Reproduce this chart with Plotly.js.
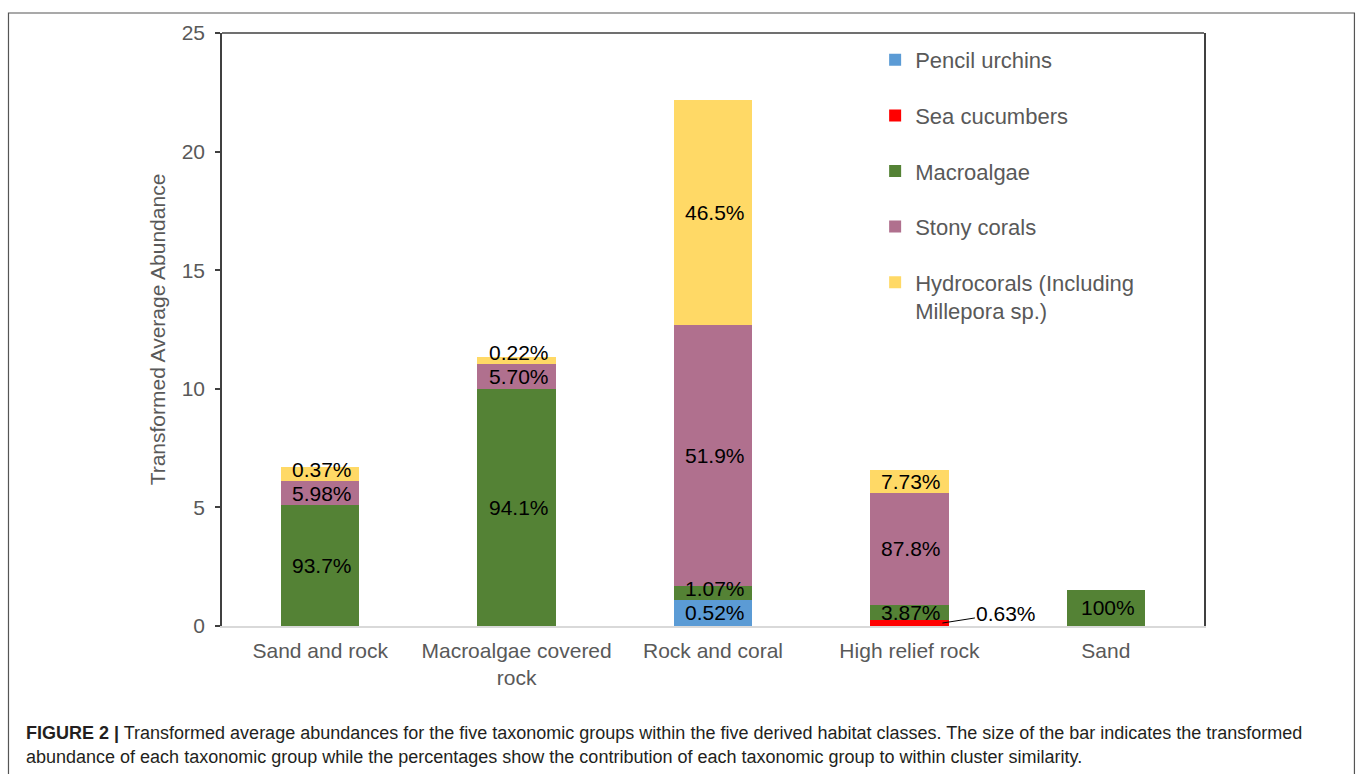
<!DOCTYPE html>
<html>
<head>
<meta charset="utf-8">
<script src="https://cdn.plot.ly/plotly-3.0.1.min.js"></script>
<style>
html,body{margin:0;padding:0;background:#fff;}
#chart{width:1357px;height:774px;}
</style>
</head>
<body>
<div id="chart"></div>
<script>
// ---- data ----
const categories = ['Sand and rock', 'Macroalgae covered<br>rock', 'Rock and coral', 'High relief rock', 'Sand'];
const seriesNames = ['Pencil urchins', 'Sea cucumbers', 'Macroalgae', 'Stony corals', 'Hydrocorals (Including<br>Millepora sp.)'];
const pencilUrchins = [null, null, 1.10, null, null];
const seaCucumbers  = [null, null, null, 0.25, null];
const macroalgae    = [5.10, 9.99, 0.59, 0.64, 1.52];
const stonyCorals   = [1.01, 1.06, 11.00, 4.72, null];
const hydrocorals   = [0.59, 0.29, 9.49, 0.97, null];
const pencilLabels  = ['', '', '0.52%', '', ''];
const seaLabels     = ['', '', '', '0.63%', ''];
const macroLabels   = ['93.7%', '94.1%', '1.07%', '3.87%', '100%'];
const stonyLabels   = ['5.98%', '5.70%', '51.9%', '87.8%', ''];
const hydroLabels   = ['0.37%', '0.22%', '46.5%', '7.73%', ''];
const yTicks = [0, 5, 10, 15, 20, 25];
const captionLine1 = '<b>FIGURE 2 |</b> Transformed average abundances for the five taxonomic groups within the five derived habitat classes. The size of the bar indicates the transformed';
const captionLine2 = 'abundance of each taxonomic group while the percentages show the contribution of each taxonomic group to within cluster similarity.';

const colors = ['#5b9bd5', '#ff0000', '#548235', '#b0708e', '#ffd966'];
const FONT = 'Liberation Sans, Arial, sans-serif';
const GREY = '#595959';
const LABEL_FONT = {family: FONT, size: 21, color: '#000'};

const seriesVals = [pencilUrchins, seaCucumbers, macroalgae, stonyCorals, hydrocorals];
const seriesLabels = [pencilLabels, seaLabels, macroLabels, stonyLabels, hydroLabels];

const data = seriesVals.map((vals, i) => ({
  type: 'bar',
  name: seriesNames[i],
  legendgroup: 'g' + i,
  x: categories,
  y: vals,
  marker: {color: colors[i], line: {width: 0}},
  hoverinfo: 'x+y+name'
}));

// plot area: x 221.6..1204, y 33..626
const L = 221.6, R = 1204, T = 33, B = 626, W = 1357, H = 774;
const px = v => (v - L) / (R - L);
const py = v => (B - v) / (B - T);
const Y_MAX = 25;
const pxPerUnit = (B - T) / Y_MAX;

// in-bar labels: centred in each segment, pushed upward when they would collide
const annotations = [];
const MIN_GAP = 24;
categories.forEach((cat, c) => {
  let base = 0;
  let prevPix = null;
  seriesVals.forEach((vals, s) => {
    const v = vals[c] || 0;
    const lbl = seriesLabels[s][c];
    const mid = base + v / 2;
    base += v;
    if (!lbl || s === 1) return; // sea cucumber label drawn with a leader line below
    let midPix = mid * pxPerUnit;
    let shift = 0;
    if (prevPix !== null && midPix - prevPix < MIN_GAP) {
      shift = prevPix + MIN_GAP - midPix;
    }
    prevPix = midPix + shift;
    annotations.push({
      xref: 'x', yref: 'y', x: cat, y: mid, yshift: shift, xshift: 2,
      text: lbl, showarrow: false, font: LABEL_FONT, xanchor: 'center', yanchor: 'middle'
    });
  });
});

// Sea cucumber label with leader line
annotations.push({
  xref: 'x', yref: 'y', x: categories[3], y: seaCucumbers[3] / 2, xshift: 33,
  text: seaLabels[3], showarrow: true, arrowhead: 0, arrowwidth: 1, arrowcolor: '#000',
  ax: 64, ay: -10, font: LABEL_FONT, standoff: 0
});

// caption
annotations.push({
  xref: 'paper', yref: 'paper', x: px(24), y: py(733), xanchor: 'left', yanchor: 'middle',
  text: captionLine1, showarrow: false, align: 'left',
  font: {family: FONT, size: 18, color: '#231f20'}
});
annotations.push({
  xref: 'paper', yref: 'paper', x: px(24), y: py(757), xanchor: 'left', yanchor: 'middle',
  text: captionLine2, showarrow: false, align: 'left',
  font: {family: FONT, size: 18, color: '#231f20'}
});

const layout = {
  width: W, height: H,
  margin: {l: L, r: W - R, t: T, b: H - B, pad: 0},
  paper_bgcolor: '#fff', plot_bgcolor: '#fff',
  barmode: 'stack',
  bargap: 0.6,
  font: {family: FONT, color: GREY},
  showlegend: true,
  legend: {
    x: px(875), y: py(39), xanchor: 'left', yanchor: 'top',
    font: {family: FONT, size: 22, color: GREY},
    traceorder: 'grouped', tracegroupgap: 24, valign: 'top',
    bgcolor: 'rgba(0,0,0,0)', itemwidth: 30
  },
  xaxis: {
    type: 'category',
    showline: true, linecolor: '#d9d9d9', linewidth: 1.5,
    ticks: '', showgrid: false, zeroline: false,
    tickfont: {family: FONT, size: 21, color: GREY},
    ticklabelstandoff: 5
  },
  yaxis: {
    range: [0, Y_MAX], tickvals: yTicks, ticktext: yTicks.map(String),
    showline: true, linecolor: '#404040', linewidth: 1.5, mirror: true,
    ticks: 'outside', ticklen: 5, tickcolor: '#404040', tickwidth: 1.5,
    showgrid: false, zeroline: false,
    tickfont: {family: FONT, size: 21, color: GREY},
    ticklabelstandoff: 6,
    title: {text: 'Transformed Average Abundance', font: {family: FONT, size: 21, color: GREY}, standoff: 10}
  },
  shapes: [
    {type: 'line', xref: 'paper', yref: 'paper', x0: 0, x1: 1, y0: 1, y1: 1, line: {color: '#404040', width: 1.5}},
    {type: 'rect', xref: 'paper', yref: 'paper', x0: px(8), x1: px(1354.5), y0: py(800), y1: py(13), line: {color: '#555', width: 1.2}, fillcolor: 'rgba(0,0,0,0)', layer: 'below'}
  ],
  annotations: annotations
};

Plotly.newPlot('chart', data, layout, {displayModeBar: false, responsive: false});
</script>
</body>
</html>
